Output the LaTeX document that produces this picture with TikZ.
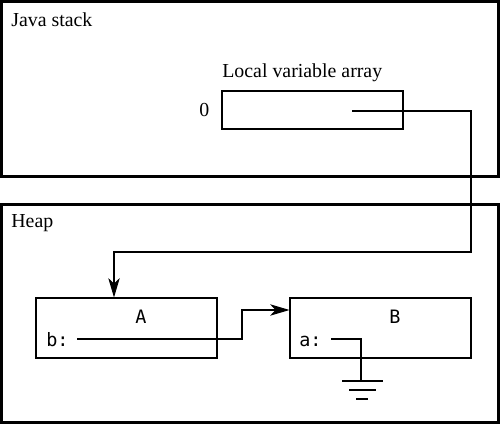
\documentclass[tikz,border=0pt]{standalone}
\usepackage{fontspec}
\setmainfont{Liberation Serif}
\setmonofont{DejaVu Sans Mono}
\usetikzlibrary{arrows.meta}

\begin{document}
\begin{tikzpicture}[x=0.02cm, y=-0.02cm,
    region/.style={draw, line width=1.4pt, minimum width=9.94cm, inner sep=0pt},
    slot/.style={draw, line width=0.6pt, minimum width=3.62cm, inner sep=0pt},
    title/.style={anchor=base west, inner sep=0pt, font=\fontsize{11.3}{13}\selectfont},
    field/.style={anchor=base west, inner sep=0pt, font=\fontsize{10.5}{12}\selectfont\ttfamily},
    ref/.style={line width=0.6pt},
    ptr/.style={line width=0.6pt, -{Stealth[length=11pt, width=6.5pt, inset=3pt]}},
]
\useasboundingbox (0,0) rectangle (500,425);

% === Java stack ===
\node[region, minimum height=3.5cm] (stack) at (250,89) {};
\node[title] (stacklbl) at (11,27) {Java stack};
\node[slot, minimum height=0.76cm] (lva) at (312.5,110) {};
\node[title] (lvalbl) at (222,78) {Local variable array};
\node[title] (idx) at (199,117) {0};

% === Heap ===
\node[region, minimum height=4.36cm] (heap) at (250,313.5) {};
\node[title] (heaplbl) at (11,228) {Heap};
\node[slot, minimum height=1.2cm] (A) at (126.5,328) {};
\node[slot, minimum height=1.2cm] (B) at (380.5,328) {};
\node[field, anchor=base] (Aname) at (141,323) {A};
\node[field, anchor=base] (Bname) at (395,323) {B};
\node[field] (bfld) at (46,346) {b:};
\node[field] (afld) at (299,346) {a:};

% === References ===
\coordinate (lv0) at (352,111);
\coordinate (bref) at (77,339);
\coordinate (aref) at (331,339);
\coordinate (gnd) at (361,381);

\draw[ptr] (lv0) -- (471,111) -- (471,252) -| ([xshift=-0.25cm]A.north);
\draw[ptr] (bref) -- (242,339) |- ([yshift=0.36cm]B.west);
\draw[ref] (aref) -| (gnd);

% === Null (ground) ===
\draw[line width=0.8pt] ([xshift=-0.38cm]gnd) -- ([xshift=0.44cm]gnd)
  ([xshift=-0.24cm, yshift=-0.18cm]gnd) -- ([xshift=0.3cm, yshift=-0.18cm]gnd)
  ([xshift=-0.1cm, yshift=-0.36cm]gnd) -- ([xshift=0.14cm, yshift=-0.36cm]gnd);

\end{tikzpicture}
\end{document}
